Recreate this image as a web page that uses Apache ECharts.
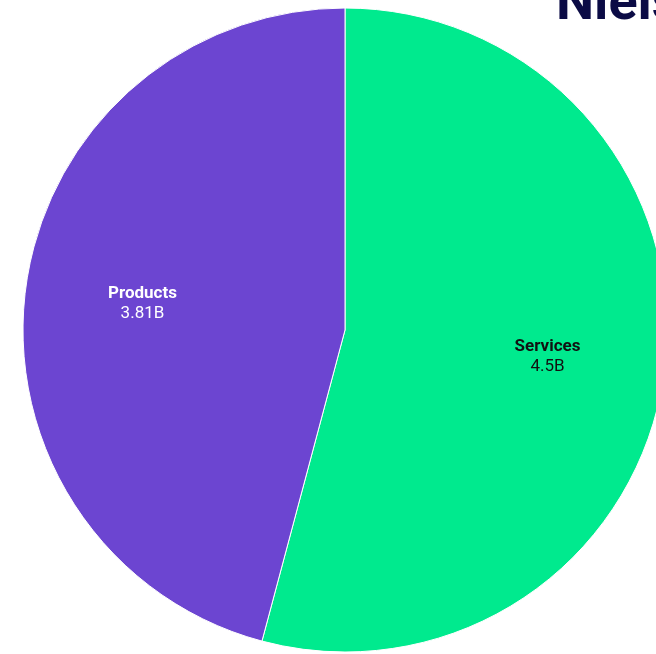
<!DOCTYPE html>
<html>
<head>
<meta charset="utf-8">
<script src="https://cdn.jsdelivr.net/npm/echarts@6/dist/echarts.min.js"></script>
<style>
  html, body { margin: 0; padding: 0; background: #ffffff; }
  #chart { width: 656px; height: 654px; }
</style>
</head>
<body>
<div id="chart"></div>
<script>
// Revenue split by segment (billions)
const categories = ['Services', 'Products'];
const values = [4.5, 3.81];
const valueLabels = ['4.5B', '3.81B'];
const colors = ['#00EA8E', '#6C45D1'];
const labelColors = ['#111111', '#ffffff'];

const pieData = categories.map((name, i) => ({
  name: name,
  value: values[i],
  itemStyle: { color: colors[i] }
}));

const labelData = categories.map((name, i) => ({
  name: name,
  value: values[i],
  itemStyle: { color: 'rgba(0,0,0,0)' },
  label: { color: labelColors[i] }
}));

const chart = echarts.init(document.getElementById('chart'), null, { renderer: 'canvas' });

const center = [345, 330];
const R = 322;

chart.setOption({
  animation: false,
  backgroundColor: '#ffffff',
  graphic: [{
    type: 'text',
    left: 556,
    top: -22,
    style: {
      text: 'Nielsen',
      font: 'bold 54px Roboto, "Liberation Sans", sans-serif',
      fill: '#0B0B45'
    }
  }],
  series: [
    {
      type: 'pie',
      center: center,
      radius: [0, R],
      startAngle: 90,
      clockwise: true,
      silent: true,
      label: { show: false },
      labelLine: { show: false },
      itemStyle: { borderColor: '#ffffff', borderWidth: 1 },
      data: pieData
    },
    {
      // transparent ring used only to place the slice labels
      type: 'pie',
      center: center,
      radius: [R * 0.25, R],
      startAngle: 90,
      clockwise: true,
      silent: true,
      labelLine: { show: false },
      label: {
        show: true,
        position: 'inside',
        fontFamily: 'Roboto, sans-serif',
        fontSize: 17,
        lineHeight: 20,
        formatter: p => '{b|' + p.name + '}\n{v|' + valueLabels[p.dataIndex] + '}',
        rich: {
          b: { fontWeight: 'bold', fontSize: 17, lineHeight: 20, fontFamily: 'Roboto, sans-serif' },
          v: { fontSize: 17, lineHeight: 20, fontFamily: 'Roboto, sans-serif' }
        }
      },
      data: labelData
    }
  ]
});
</script>
</body>
</html>
